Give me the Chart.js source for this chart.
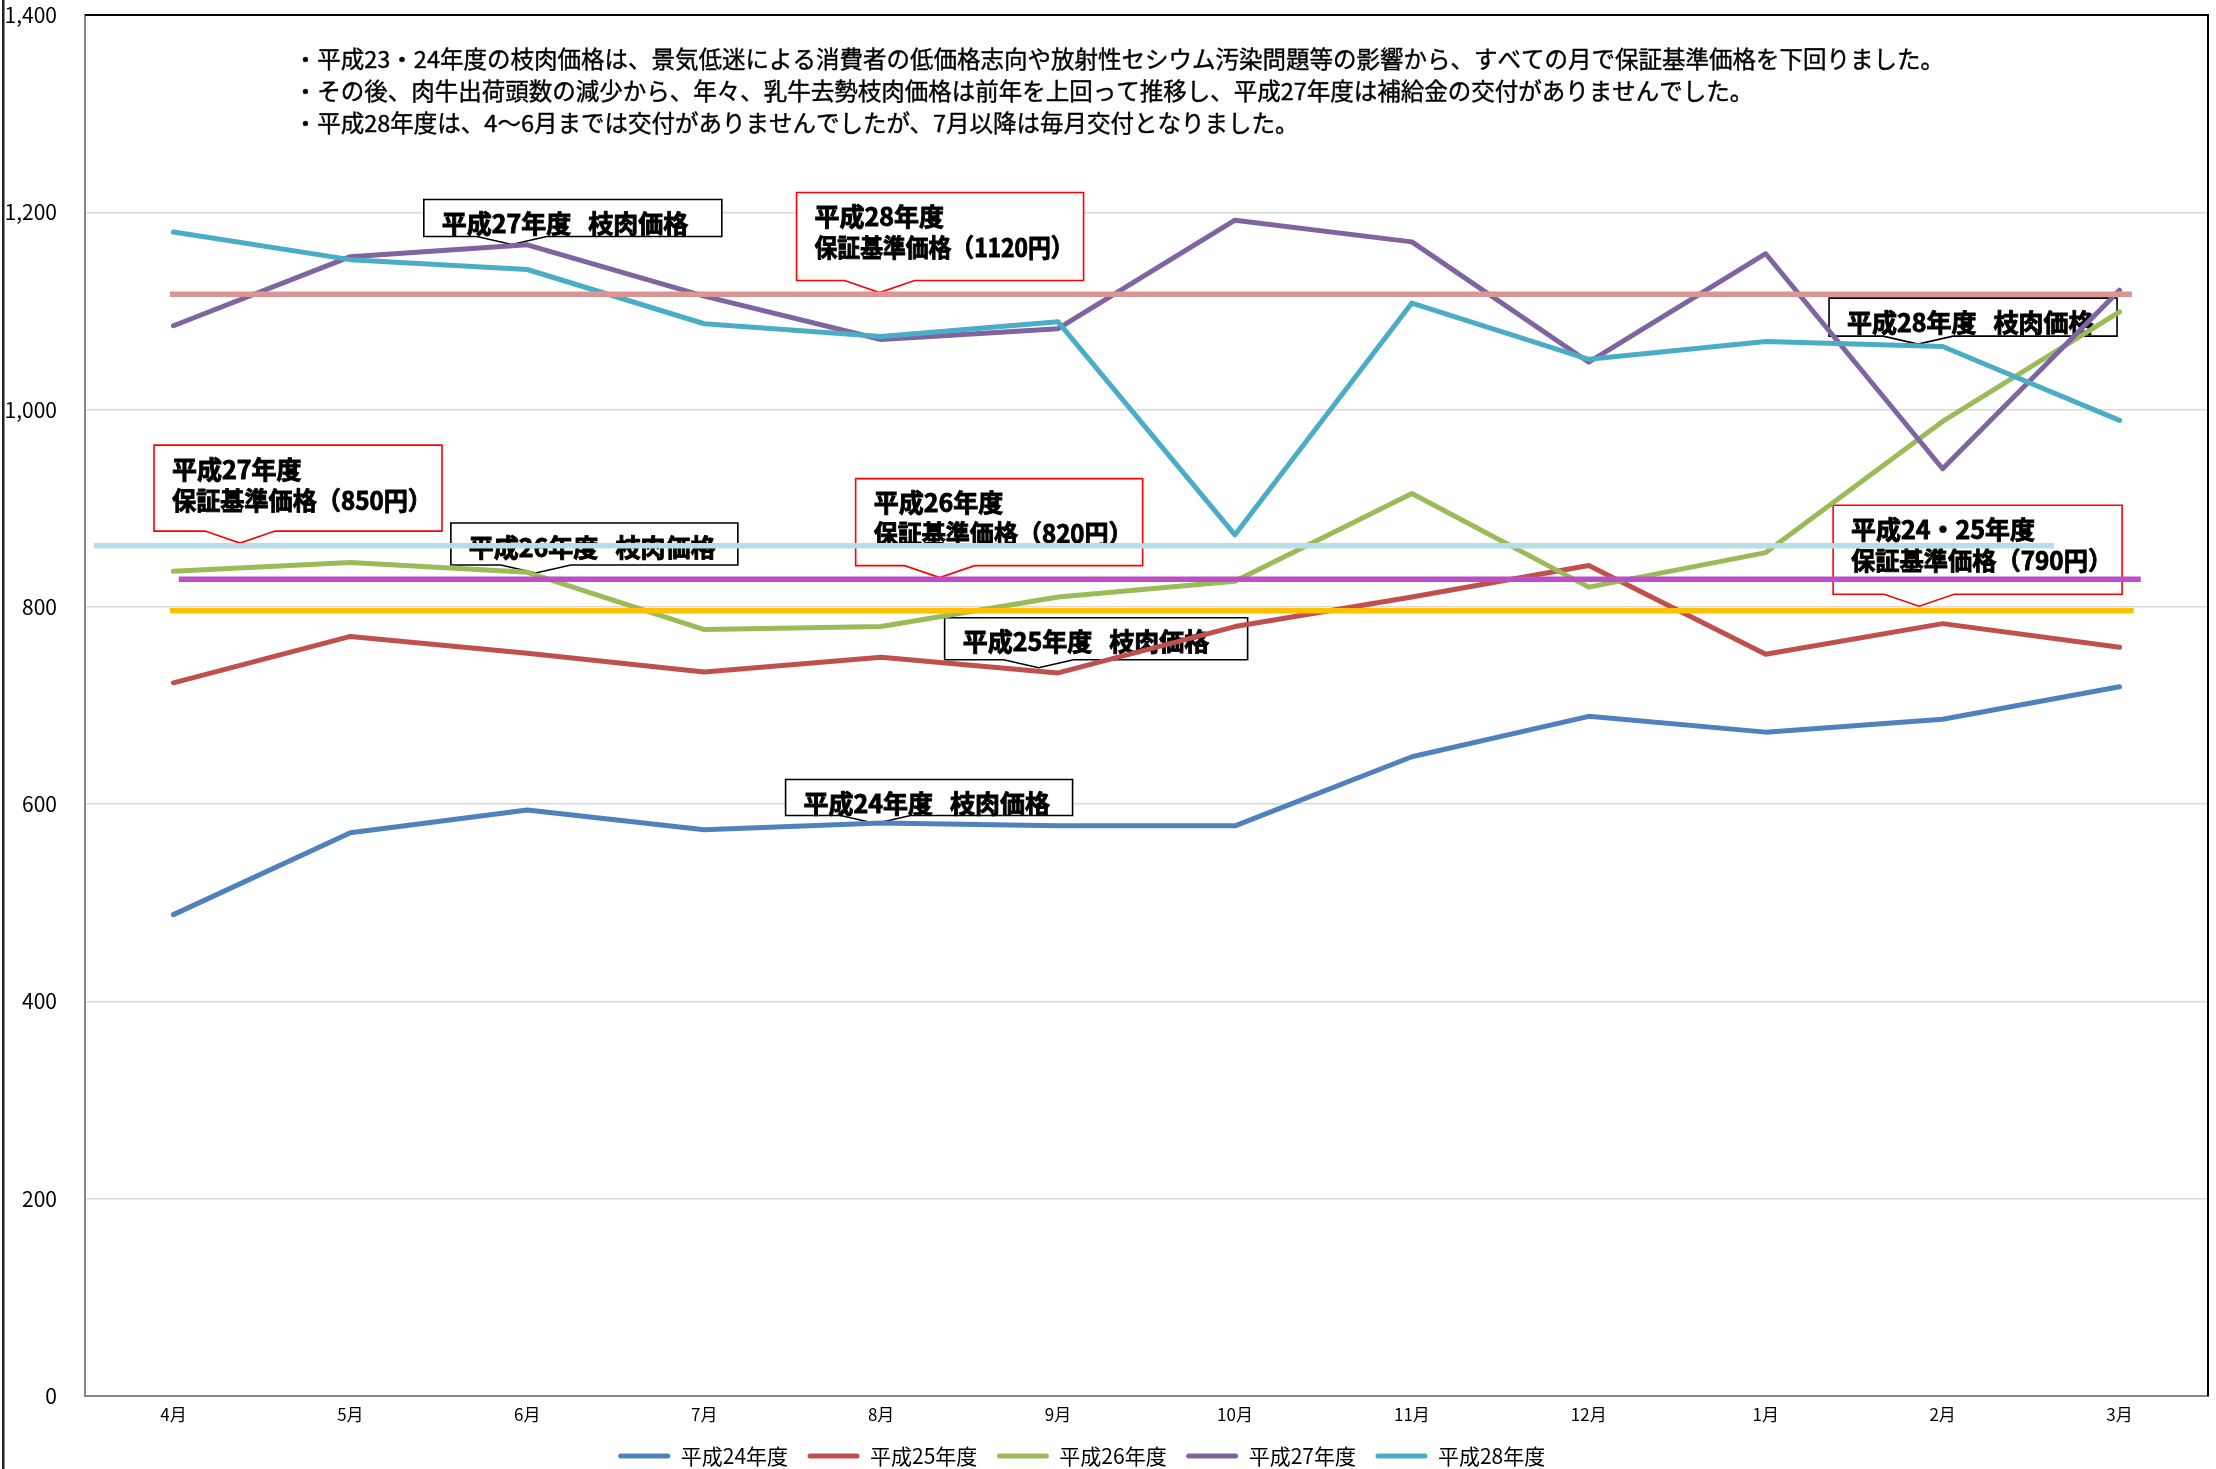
<!DOCTYPE html>
<html lang="ja">
<head>
<meta charset="utf-8">
<title>乳牛去勢枝肉価格の推移</title>
<script src="https://cdn.jsdelivr.net/npm/chart.js@4.4.1/dist/chart.umd.min.js"></script>
<style>
  html, body { margin: 0; padding: 0; background: #fff; overflow: hidden; }
  #wrap { position: relative; width: 2216px; height: 1469px; }
</style>
</head>
<body>
<div id="wrap"><canvas id="chart1"></canvas></div>
<script>
// 月（年度：4月〜翌3月）
const months = ['4月', '5月', '6月', '7月', '8月', '9月', '10月', '11月', '12月', '1月', '2月', '3月'];

// 枝肉価格（円/kg）
const seriesNames = ['平成24年度', '平成25年度', '平成26年度', '平成27年度', '平成28年度'];
const h24 = [488, 571, 594, 574, 581, 578, 578, 648, 689, 673, 686, 719];
const h25 = [723, 770, 753, 734, 749, 733, 780, 810, 842, 752, 783, 759];
const h26 = [836, 845, 835, 777, 780, 810, 826, 915, 820, 855, 988, 1099];
const h27 = [1085, 1155, 1167, 1115, 1071, 1082, 1192, 1170, 1048, 1158, 940, 1121];
const h28 = [1180, 1152, 1142, 1087, 1074, 1089, 873, 1108, 1051, 1069, 1064, 989];

// 保証基準価格の線（図形として引かれた横線）
const refValues = [1117, 862, 828, 796];
const refStart = [-0.02, -0.45, 0.03, -0.02];
const refEnd = [11.07, 10.63, 11.12, 11.08];

// y軸
const yMin = 0;
const yMax = 1400;
const yStep = 200;

const noteLines = [
    '・平成23・24年度の枝肉価格は、景気低迷による消費者の低価格志向や放射性セシウム汚染問題等の影響から、すべての月で保証基準価格を下回りました。',
    '・その後、肉牛出荷頭数の減少から、年々、乳牛去勢枝肉価格は前年を上回って推移し、平成27年度は補給金の交付がありませんでした。',
    '・平成28年度は、4～6月までは交付がありませんでしたが、7月以降は毎月交付となりました。'
];

const FONT = '"Noto Sans CJK JP", "Noto Sans", sans-serif';
const seriesColors = ['#4F81BD', '#C0504D', '#9BBB59', '#8064A2', '#4BACC6'];
const refColors = ['#DA9694', '#B7DEE8', '#BB4FC6', '#FFC000'];

// 吹き出し（x は月の位置、y は価格の値で置く）
const callouts = [
    { lines: ['平成27年度   枝肉価格'], x: 1.415, y: 1213, w: 298, h: 37, tip: 88, color: '#000' },
    { lines: ['平成28年度', '保証基準価格（1120円）'], x: 3.522, y: 1220, w: 287, h: 88, tip: 83, color: '#FF0000' },
    { lines: ['平成28年度   枝肉価格'], x: 9.358, y: 1113, w: 288, h: 38, tip: 89, color: '#000' },
    { lines: ['平成27年度', '保証基準価格（850円）'], x: -0.11, y: 964, w: 288, h: 86, tip: 86, color: '#FF0000' },
    { lines: ['平成26年度   枝肉価格'], x: 1.568, y: 885, w: 287, h: 42, tip: 85, color: '#000' },
    { lines: ['平成26年度', '保証基準価格（820円）'], x: 3.856, y: 930, w: 287, h: 87, tip: 84, color: '#FF0000' },
    { lines: ['平成24・25年度', '保証基準価格（790円）'], x: 9.381, y: 903, w: 289, h: 89, tip: 86, color: '#FF0000' },
    { lines: ['平成25年度   枝肉価格'], x: 4.359, y: 789, w: 303, h: 42, tip: 94, color: '#000' },
    { lines: ['平成24年度   枝肉価格'], x: 3.46, y: 625, w: 287, h: 36, tip: 90, color: '#000' }
];

document.addEventListener('DOMContentLoaded', function () {
    const ctx1 = document.getElementById('chart1').getContext('2d');

    Chart.defaults.font.family = FONT;
    Chart.defaults.color = '#000';

    const seriesData = [h24, h25, h26, h27, h28];
    const datasets = seriesData.map((d, i) => ({
        label: seriesNames[i],
        data: d,
        borderColor: seriesColors[i],
        backgroundColor: seriesColors[i],
        borderWidth: 5,
        pointRadius: 0,
        tension: 0,
        borderJoinStyle: 'round',
        borderCapStyle: 'round',
        fill: false,
        order: 5 - i
    }));

    refValues.forEach((v, i) => {
        datasets.push({
            label: 'ref' + i,
            xAxisID: 'x2',
            data: [{ x: refStart[i], y: v }, { x: refEnd[i], y: v }],
            borderColor: refColors[i],
            backgroundColor: refColors[i],
            borderWidth: 5.5,
            pointRadius: 0,
            fill: false,
            order: 0
        });
    });

    // 枠線、吹き出し、説明文
    const decorPlugin = {
        id: 'decor',
        beforeDatasetsDraw(chart) {
            const { ctx, chartArea, scales } = chart;
            const x2 = scales.x2;
            const y = scales.y;

            ctx.save();
            // プロットエリアの上・右の黒枠
            ctx.strokeStyle = '#000';
            ctx.lineWidth = 2;
            ctx.beginPath();
            ctx.moveTo(chartArea.left, chartArea.top);
            ctx.lineTo(chartArea.right, chartArea.top);
            ctx.lineTo(chartArea.right, chartArea.bottom);
            ctx.stroke();

            // 説明文
            ctx.fillStyle = '#000';
            ctx.strokeStyle = '#000';
            ctx.lineWidth = 0.4;
            ctx.font = '23.5px ' + FONT;
            ctx.textBaseline = 'middle';
            ctx.textAlign = 'left';
            const nx = x2.getPixelForValue(0.68);
            const ny = y.getPixelForValue(1355);
            noteLines.forEach((t, i) => {
                ctx.fillText(t, nx, ny + i * 32);
                ctx.strokeText(t, nx, ny + i * 32);
            });

            // 吹き出し
            callouts.forEach(c => {
                const left = x2.getPixelForValue(c.x);
                const top = y.getPixelForValue(c.y);
                const right = left + c.w;
                const bottom = top + c.h;
                const tipX = left + c.tip;
                const depth = c.lines.length > 1 ? 12 : 8;

                ctx.beginPath();
                ctx.moveTo(left, top);
                ctx.lineTo(right, top);
                ctx.lineTo(right, bottom);
                ctx.lineTo(tipX + 35, bottom);
                ctx.lineTo(tipX, bottom + depth);
                ctx.lineTo(tipX - 35, bottom);
                ctx.lineTo(left, bottom);
                ctx.closePath();
                ctx.fillStyle = '#fff';
                ctx.fill();
                ctx.strokeStyle = c.color;
                ctx.lineWidth = 1.6;
                ctx.stroke();

                ctx.fillStyle = '#000';
                ctx.strokeStyle = '#000';
                ctx.lineWidth = 0.9;
                ctx.font = 'bold 25px ' + FONT;
                c.lines.forEach((t, i) => {
                    ctx.fillText(t, left + 18, top + 24 + i * 31, c.w - 28);
                    ctx.strokeText(t, left + 18, top + 24 + i * 31, c.w - 28);
                });
            });
            ctx.restore();
        },
        afterDraw(chart) {
            // グラフ全体の左枠
            const { ctx } = chart;
            ctx.save();
            ctx.fillStyle = '#222';
            ctx.fillRect(2, 0, 2.5, chart.height);
            ctx.restore();
        }
    };

    const chart1 = new Chart(ctx1, {
        type: 'line',
        data: {
            labels: months,
            datasets: datasets
        },
        options: {
            responsive: true,
            maintainAspectRatio: false,
            animation: false,
            layout: {
                padding: { top: 15, right: 8, left: -44.5, bottom: -7.5 }
            },
            plugins: {
                legend: {
                    position: 'bottom',
                    labels: {
                        boxWidth: 52,
                        boxHeight: 5,
                        padding: 19.5,
                        useBorderRadius: true,
                        borderRadius: 2.5,
                        font: { size: 21 },
                        color: '#000',
                        filter: item => item.datasetIndex < 5,
                        sort: (a, b) => a.datasetIndex - b.datasetIndex,
                        generateLabels: chart => Chart.defaults.plugins.legend.labels.generateLabels(chart)
                            .map(l => Object.assign(l, { fillStyle: l.strokeStyle, lineWidth: 0 }))
                    }
                },
                tooltip: { enabled: false }
            },
            scales: {
                x: {
                    type: 'category',
                    offset: true,
                    grid: { drawOnChartArea: false, drawTicks: false },
                    border: { color: '#868686', width: 2 },
                    ticks: {
                        padding: 8,
                        font: { size: 17 },
                        color: '#000',
                        maxRotation: 0,
                        autoSkip: false
                    },
                    afterFit: function (scale) { scale.height = 30; }
                },
                x2: {
                    type: 'linear',
                    display: false,
                    min: -0.5,
                    max: 11.5
                },
                y: {
                    min: yMin,
                    max: yMax,
                    ticks: {
                        stepSize: yStep,
                        padding: 0,
                        font: { size: 21 },
                        color: '#000'
                    },
                    grid: {
                        color: '#d9d9d9',
                        lineWidth: 1.5,
                        drawTicks: true,
                        tickLength: 28,
                        tickColor: 'rgba(0,0,0,0)'
                    },
                    border: { color: '#868686', width: 2 },
                    afterFit: function (scale) { scale.width = 129.5; }
                }
            }
        },
        plugins: [decorPlugin]
    });
});
</script>
</body>
</html>
